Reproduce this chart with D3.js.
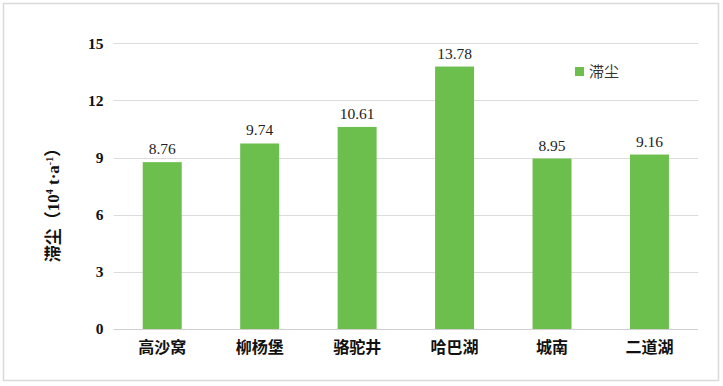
<!DOCTYPE html>
<html>
<head>
<meta charset="utf-8">
<script src="https://cdn.jsdelivr.net/npm/d3@7"></script>
<style>
html,body{margin:0;padding:0;background:#fff;}
svg{display:block;}
</style>
</head>
<body>
<svg id="chart" width="723" height="386"></svg>
<script>
const categories = ["高沙窝", "柳杨堡", "骆驼井", "哈巴湖", "城南", "二道湖"];
const values = [8.76, 9.74, 10.61, 13.78, 8.95, 9.16];
const yTicks = [0, 3, 6, 9, 12, 15];
const seriesName = "滞尘";

const svg = d3.select("#chart");
const W = 723, H = 386;
const m = {left: 113.5, right: 24.8, top: 43.3, bottom: 57};

svg.append("rect").attr("x", 3.5).attr("y", 3.5).attr("width", 715).attr("height", 377)
  .attr("fill", "#fff").attr("stroke", "#d9d9d9").attr("stroke-width", 1.5);

const x = d3.scaleBand().domain(categories).range([m.left, W - m.right])
  .paddingInner(0.6).paddingOuter(0.3);
const y = d3.scaleLinear().domain([0, 15]).range([H - m.bottom, m.top]);

// gridlines
svg.append("g").selectAll("line").data(yTicks).join("line")
  .attr("x1", m.left).attr("x2", W - m.right)
  .attr("y1", d => Math.round(y(d)) + 0.5).attr("y2", d => Math.round(y(d)) + 0.5)
  .attr("stroke", d => d === 0 ? "#cfcfcf" : "#dcdcdc").attr("stroke-width", 1);

// y axis tick labels
const yAxis = d3.axisLeft(y).tickValues(yTicks).tickSize(0).tickPadding(10);
const gy = svg.append("g").attr("transform", `translate(${m.left},0)`).call(yAxis);
gy.select(".domain").remove();
gy.selectAll("text").attr("font-family", "'Liberation Serif','Times New Roman',serif")
  .attr("font-weight", "bold").attr("font-size", 15.5).attr("fill", "#111");

// bars
svg.append("g").selectAll("rect").data(values).join("rect")
  .attr("x", (d, i) => x(categories[i])).attr("width", x.bandwidth())
  .attr("y", d => y(d)).attr("height", d => y(0) - y(d))
  .attr("fill", "#6cbf4c");

// value labels
svg.append("g").selectAll("text").data(values).join("text")
  .attr("x", (d, i) => x(categories[i]) + x.bandwidth() / 2)
  .attr("y", d => y(d) - 8)
  .attr("text-anchor", "middle")
  .attr("font-family", "'Liberation Serif','Times New Roman',serif")
  .attr("font-size", 15.5).attr("fill", "#222")
  .text(d => d.toFixed(2));

// x axis labels
const xAxis = d3.axisBottom(x).tickSize(0).tickPadding(13);
const gx = svg.append("g").attr("transform", `translate(0,${y(0)})`).call(xAxis);
gx.select(".domain").remove();
gx.selectAll("text").attr("font-family", "'Noto Sans CJK SC','Noto Sans',sans-serif")
  .attr("font-weight", "bold").attr("font-size", 16).attr("fill", "#111");

// y axis title
const t = svg.append("text")
  .attr("transform", "translate(59,201) rotate(-90)")
  .attr("text-anchor", "middle")
  .attr("font-weight", "bold").attr("font-size", 17).attr("fill", "#111")
  .attr("font-family", "'Noto Sans CJK SC',sans-serif");
const serif = "'Liberation Serif','Times New Roman',serif";
t.append("tspan").text("滞尘（");
t.append("tspan").attr("font-family", serif).attr("font-size", 17).text("10");
t.append("tspan").attr("font-family", serif).attr("font-size", 10).attr("dy", -6).text("4");
t.append("tspan").attr("font-family", serif).attr("font-size", 17).attr("dy", 6).text(" t·a");
t.append("tspan").attr("font-family", serif).attr("font-size", 10).attr("dy", -6).text("-1");
t.append("tspan").attr("dy", 6).text("）");

// legend
const lg = svg.append("g").attr("transform", "translate(575,67)");
lg.append("rect").attr("width", 9).attr("height", 9).attr("fill", "#6cbf4c");
lg.append("text").attr("x", 14).attr("y", 4.5).attr("dy", "0.35em")
  .attr("font-family", "'Noto Sans CJK SC',sans-serif").attr("font-size", 15).attr("fill", "#333")
  .text(seriesName);
</script>
</body>
</html>
